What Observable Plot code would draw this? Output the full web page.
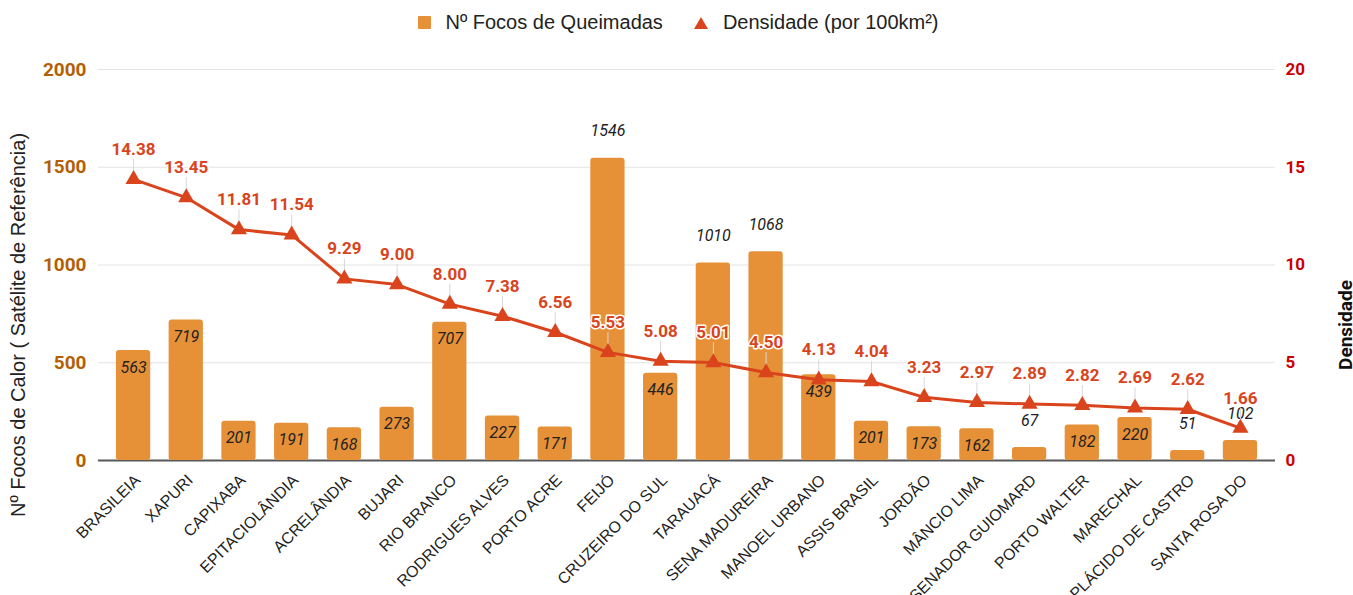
<!DOCTYPE html>
<html>
<head>
<meta charset="utf-8">
<script src="https://cdn.jsdelivr.net/npm/d3@7"></script>
<script src="https://cdn.jsdelivr.net/npm/@observablehq/plot@0.6"></script>
<style>
  html, body { margin: 0; padding: 0; background: #fff; }
  #legend { height: 45px; display: flex; justify-content: center; align-items: center; gap: 30px;
    font-family: "Liberation Sans", Arial, sans-serif; font-size: 20px; color: #222; padding-left: 4px; }
  .item { display: flex; align-items: center; gap: 14px; }
  .sq { width: 13px; height: 13px; background: #E69138; border-radius: 1px; }
</style>
</head>
<body>
<div id="legend">
  <div class="item"><div class="sq"></div><span>Nº Focos de Queimadas</span></div>
  <div class="item"><svg width="16" height="14"><polygon points="8,1 15,13 1,13" fill="#D9441C"/></svg><span>Densidade (por 100km²)</span></div>
</div>
<div id="chart"></div>
<script>
const categories = ["BRASILEIA","XAPURI","CAPIXABA","EPITACIOLÂNDIA","ACRELÂNDIA","BUJARI","RIO BRANCO","RODRIGUES ALVES","PORTO ACRE","FEIJÓ","CRUZEIRO DO SUL","TARAUACÁ","SENA MADUREIRA","MANOEL URBANO","ASSIS BRASIL","JORDÃO","MÂNCIO LIMA","SENADOR GUIOMARD","PORTO WALTER","MARECHAL","PLÁCIDO DE CASTRO","SANTA ROSA DO"];
const focos = [563,719,201,191,168,273,707,227,171,1546,446,1010,1068,439,201,173,162,67,182,220,51,102];
const densidade = [14.38,13.45,11.81,11.54,9.29,9.00,8.00,7.38,6.56,5.53,5.08,5.01,4.50,4.13,4.04,3.23,2.97,2.89,2.82,2.69,2.62,1.66];
const leftTicks = [0,500,1000,1500,2000];

const BAR = "#E69138", RED = "#D9441C";
const data = categories.map((c,i) => ({cat: c, focos: focos[i], dens: densidade[i], d100: densidade[i]*100}));
const outside = d => d.focos < 110 || d.focos > 1000;

const leader = {draw(context, l) { context.moveTo(0, 0); context.lineTo(0, -l); }};

const chart = Plot.plot({
  width: 1353, height: 550,
  marginTop: 24, marginBottom: 135, marginLeft: 98, marginRight: 78,
  style: {fontFamily: "Roboto, sans-serif", background: "#fff", overflow: "visible"},
  x: {domain: categories, paddingInner: 0.35, paddingOuter: 0.34, round: false},
  y: {domain: [0, 2000]},
  marks: [
    Plot.ruleY(leftTicks.filter(t => t > 0), {stroke: "#e3e3e3", strokeWidth: 1}),
    Plot.ruleY([0], {stroke: "#595959", strokeWidth: 2}),
    Plot.barY(data, {x: "cat", y: "focos", fill: BAR, rx: 3}),
    Plot.axisY({ticks: leftTicks, anchor: "left", tickSize: 0, tickPadding: 12, label: null,
      tickFormat: d => String(d), fill: "#B45F06", fontWeight: "bold", fontSize: 19}),
    Plot.axisY({ticks: leftTicks, anchor: "right", tickSize: 0, tickPadding: 10, label: null,
      tickFormat: d => String(d / 100), fill: "#CC0000", fontWeight: "bold", fontSize: 17}),
    Plot.axisX({tickRotate: -45, tickSize: 0, tickPadding: 17, label: null, fontSize: 16,
      fontFamily: "Liberation Sans, Arial, sans-serif", fill: "#222", dx: 4}),
    Plot.text(data.filter(d => !outside(d)), {x: "cat", y: "focos", text: d => String(d.focos),
      dy: 17, fontStyle: "italic", fontSize: 16, fill: "#222"}),
    Plot.text(data.filter(outside), {x: "cat", y: "focos", text: d => String(d.focos),
      dy: -27, fontStyle: "italic", fontSize: 16, fill: "#222"}),
    Plot.vector(data, {x: "cat", y: "d100", length: 12, rotate: 0, anchor: "start", dy: -8,
      shape: leader, stroke: "#d8d8d8", strokeWidth: 1}),
    Plot.line(data, {x: "cat", y: "d100", stroke: RED, strokeWidth: 3}),
    Plot.dot(data, {x: "cat", y: "d100", symbol: "triangle", fill: RED, r: 6}),
    Plot.text(data, {x: "cat", y: "d100", text: d => d.dens.toFixed(2), dy: -30,
      fontWeight: "bold", fontSize: 17, fill: RED, stroke: "white", strokeWidth: 3}),
    Plot.text(["Nº Focos de Calor ( Satélite de Referência)"], {frameAnchor: "left", textAnchor: "middle",
      dx: -80, dy: 60, rotate: -90, fontSize: 20, fill: "#222", fontFamily: "Liberation Sans, Arial, sans-serif"}),
    Plot.text(["Densidade"], {frameAnchor: "right", textAnchor: "middle", dx: 70, dy: 60, rotate: -90,
      fontSize: 19, fontWeight: "bold", fill: "#111"})
  ]
});
document.getElementById("chart").appendChild(chart);
</script>
</body>
</html>
